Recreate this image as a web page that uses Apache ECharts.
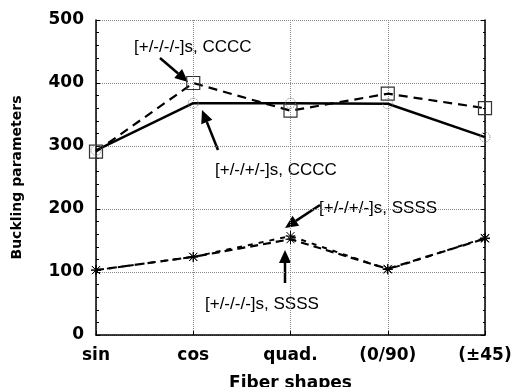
<!DOCTYPE html>
<html>
<head>
<meta charset="utf-8">
<script src="https://cdn.jsdelivr.net/npm/echarts@6/dist/echarts.min.js"></script>
<style>
  html, body { margin: 0; padding: 0; background: #fff; }
  #chart { width: 523px; height: 387px; }
</style>
</head>
<body>
<div id="chart"></div>
<script>
// categories and values
const shapes = ['sin', 'cos', 'quad.', '(0/90)', '(\u00B145)'];
const ccccMinus = [291, 400, 356, 383, 360];   // [+/-/-/-]s, CCCC
const ccccPlus = [293, 368, 368, 367, 314];    // [+/-/+/-]s, CCCC
const ssssMinus = [103, 124, 152, 105, 153];   // [+/-/-/-]s, SSSS
const ssssPlus = [103, 124, 157, 104, 154];    // [+/-/+/-]s, SSSS
const yTicks = [0, 100, 200, 300, 400, 500];

const star = 'path://M0,-5L0,5M-5,0L5,0M-4,-4L4,4M-4,4L4,-4';
const boldFont = 'DejaVu Sans';

const myChart = echarts.init(document.getElementById('chart'));

function arrow(x1, y1, x2, y2) {
    // line from tail to head plus filled head
    const ang = Math.atan2(y2 - y1, x2 - x1);
    const L = 13, W = 6;
    const bx = x2 - L * Math.cos(ang), by = y2 - L * Math.sin(ang);
    const px = -Math.sin(ang) * W, py = Math.cos(ang) * W;
    return [
        { type: 'line', shape: { x1: x1, y1: y1, x2: bx, y2: by }, style: { stroke: '#000', lineWidth: 2.5 } },
        { type: 'polygon', shape: { points: [[x2, y2], [bx + px, by + py], [bx - px, by - py]] }, style: { fill: '#000' } }
    ];
}

function note(x, y, text) {
    return {
        type: 'text', x: x, y: y,
        style: { text: text, font: '17px "Liberation Sans", Arial, sans-serif', fill: '#000', verticalAlign: 'middle' }
    };
}

const option = {
    animation: false,
    grid: { left: 96, right: 38, top: 20, bottom: 52, outerBoundsMode: 'none' },
    xAxis: {
        type: 'category',
        data: shapes,
        boundaryGap: false,
        name: 'Fiber shapes',
        nameLocation: 'middle',
        nameGap: 40,
        nameTextStyle: { fontFamily: boldFont, fontWeight: 'bold', fontSize: 17, color: '#000' },
        axisLine: { lineStyle: { color: '#000', width: 1.5 } },
        axisTick: { show: true, inside: true, length: 4, lineStyle: { color: '#000' } },
        axisLabel: { fontFamily: boldFont, fontWeight: 'bold', fontSize: 17, color: '#000', margin: 12 },
        splitLine: { show: true, lineStyle: { type: 'dotted', color: '#888' } }
    },
    yAxis: [{
        type: 'value',
        min: yTicks[0],
        max: yTicks[yTicks.length - 1],
        interval: 100,
        name: 'Buckling parameters',
        nameLocation: 'middle',
        nameGap: 72,
        nameTextStyle: { fontFamily: boldFont, fontWeight: 'bold', fontSize: 14, color: '#000' },
        axisLine: { show: true, lineStyle: { color: '#000', width: 1.5 } },
        axisTick: { show: true, inside: true, length: 4, lineStyle: { color: '#000' } },
        minorTick: { show: true, splitNumber: 5, length: 3, lineStyle: { color: '#000' } },
        axisLabel: { fontFamily: boldFont, fontWeight: 'bold', fontSize: 17, color: '#000', margin: 12 },
        splitLine: { show: true, lineStyle: { type: 'dotted', color: '#888' } }
    }, {
        type: 'value',
        position: 'right',
        min: 0, max: 500, interval: 100,
        axisLine: { show: true, lineStyle: { color: '#000', width: 1.5 } },
        axisTick: { show: true, inside: true, length: 4, lineStyle: { color: '#000' } },
        minorTick: { show: true, splitNumber: 5, length: 2, lineStyle: { color: '#000' } },
        axisLabel: { show: false },
        splitLine: { show: false }
    }],
    series: [
        {
            name: '[+/-/-/-]s, CCCC', type: 'line', data: ccccMinus,
            symbol: 'rect', symbolSize: 13,
            itemStyle: { color: 'transparent', borderColor: '#333', borderWidth: 1.2 },
            lineStyle: { color: '#000', width: 2.2, type: [9, 6] }
        },
        {
            name: '[+/-/+/-]s, CCCC', type: 'line', data: ccccPlus,
            symbol: 'circle', symbolSize: 10,
            itemStyle: { color: 'transparent', borderColor: '#777', borderWidth: 1, borderType: 'dotted' },
            lineStyle: { color: '#000', width: 2.5 }
        },
        {
            name: '[+/-/-/-]s, SSSS', type: 'line', data: ssssMinus,
            symbol: star, symbolSize: 10,
            itemStyle: { color: 'transparent', borderColor: '#000', borderWidth: 1 },
            lineStyle: { color: '#000', width: 2.2, type: [8, 5] }
        },
        {
            name: '[+/-/+/-]s, SSSS', type: 'line', data: ssssPlus,
            symbol: star, symbolSize: 10,
            itemStyle: { color: 'transparent', borderColor: '#000', borderWidth: 1 },
            lineStyle: { color: '#000', width: 2, type: [5, 6] }
        }
    ],
    graphic: [
        note(134, 47, '[+/-/-/-]s, CCCC'),
        note(215, 170, '[+/-/+/-]s, CCCC'),
        note(319, 208, '[+/-/+/-]s, SSSS'),
        note(205, 304, '[+/-/-/-]s, SSSS')
    ]
        .concat(arrow(160, 58, 188, 82))
        .concat(arrow(218, 150, 202, 110))
        .concat(arrow(320, 205, 285, 228))
        .concat(arrow(285, 283, 285, 250))
};

myChart.setOption(option);
</script>
</body>
</html>
